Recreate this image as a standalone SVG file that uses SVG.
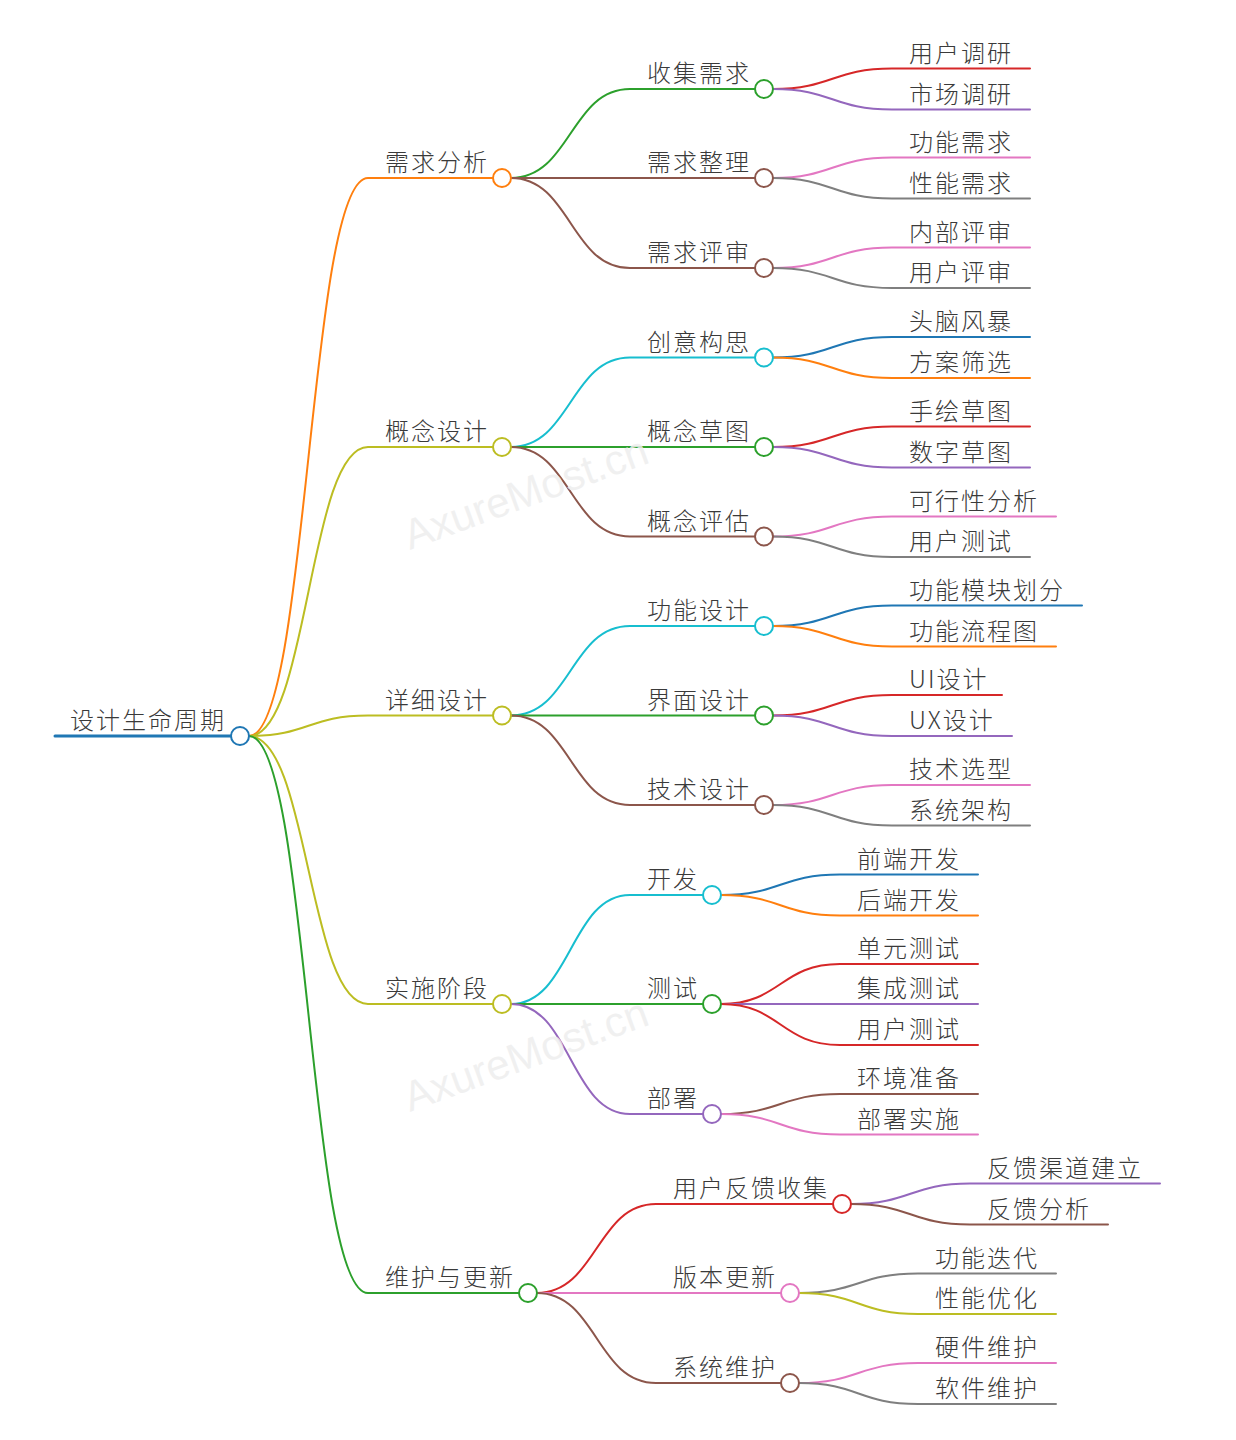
<svg xmlns="http://www.w3.org/2000/svg" width="1236" height="1440" viewBox="0 0 1236 1440">
<style>
text{font-family:"Noto Sans CJK SC","Noto Sans",sans-serif;font-size:24px;letter-spacing:2px;fill:#3a3a3a;font-weight:300}
.wm{font-family:"Liberation Sans",sans-serif;font-size:42px;letter-spacing:0;fill:#eeeeee;fill-opacity:0.85;font-weight:400}
path{fill:none;stroke-width:2;stroke-linecap:round}
circle{fill:#fff;stroke-width:2}
.blue{stroke:#1f77b4}.orange{stroke:#ff7f0e}.green{stroke:#2ca02c}.red{stroke:#d62728}.purple{stroke:#9467bd}.brown{stroke:#8c564b}.pink{stroke:#e377c2}.gray{stroke:#7f7f7f}.olive{stroke:#bcbd22}.cyan{stroke:#17becf}
</style>
<rect width="1236" height="1440" fill="#fff"/>
<g id="connectors">
<path class="blue" d="M55 736H231" style="stroke-width:3"/>
<path class="orange" d="M249 736C308.5 736 308.5 178 368 178H493"/>
<path class="olive" d="M249 736C308.5 736 308.5 447 368 447H493"/>
<path class="olive" d="M249 736C308.5 736 308.5 715.5 368 715.5H493"/>
<path class="olive" d="M249 736C308.5 736 308.5 1004 368 1004H493"/>
<path class="green" d="M249 736C308.5 736 308.5 1293 368 1293H519"/>
<path class="green" d="M511 178C570.5 178 570.5 89 630 89H755"/>
<path class="brown" d="M511 178H755"/>
<path class="brown" d="M511 178C570.5 178 570.5 268 630 268H755"/>
<path class="red" d="M773 89C832.5 89 832.5 68.5 892 68.5H1030"/>
<path class="purple" d="M773 89C832.5 89 832.5 109.5 892 109.5H1030"/>
<path class="pink" d="M773 178C832.5 178 832.5 157.5 892 157.5H1030"/>
<path class="gray" d="M773 178C832.5 178 832.5 198.5 892 198.5H1030"/>
<path class="pink" d="M773 268C832.5 268 832.5 247.5 892 247.5H1030"/>
<path class="gray" d="M773 268C832.5 268 832.5 288 892 288H1030"/>
<path class="cyan" d="M511 447C570.5 447 570.5 357.5 630 357.5H755"/>
<path class="green" d="M511 447H755"/>
<path class="brown" d="M511 447C570.5 447 570.5 536.5 630 536.5H755"/>
<path class="blue" d="M773 357.5C832.5 357.5 832.5 337 892 337H1030"/>
<path class="orange" d="M773 357.5C832.5 357.5 832.5 378 892 378H1030"/>
<path class="red" d="M773 447C832.5 447 832.5 426.5 892 426.5H1030"/>
<path class="purple" d="M773 447C832.5 447 832.5 467.5 892 467.5H1030"/>
<path class="pink" d="M773 536.5C832.5 536.5 832.5 516.5 892 516.5H1056"/>
<path class="gray" d="M773 536.5C832.5 536.5 832.5 557 892 557H1030"/>
<path class="cyan" d="M511 715.5C570.5 715.5 570.5 626 630 626H755"/>
<path class="green" d="M511 715.5H755"/>
<path class="brown" d="M511 715.5C570.5 715.5 570.5 805 630 805H755"/>
<path class="blue" d="M773 626C832.5 626 832.5 605.5 892 605.5H1082"/>
<path class="orange" d="M773 626C832.5 626 832.5 646.5 892 646.5H1056"/>
<path class="red" d="M773 715.5C832.5 715.5 832.5 695 892 695H1002"/>
<path class="purple" d="M773 715.5C832.5 715.5 832.5 736 892 736H1012"/>
<path class="pink" d="M773 805C832.5 805 832.5 785 892 785H1030"/>
<path class="gray" d="M773 805C832.5 805 832.5 825.5 892 825.5H1030"/>
<path class="cyan" d="M511 1004C570.5 1004 570.5 895 630 895H703"/>
<path class="green" d="M511 1004H703"/>
<path class="purple" d="M511 1004C570.5 1004 570.5 1114 630 1114H703"/>
<path class="blue" d="M721 895C780.5 895 780.5 874.5 840 874.5H978"/>
<path class="orange" d="M721 895C780.5 895 780.5 915.5 840 915.5H978"/>
<path class="red" d="M721 1004C780.5 1004 780.5 964 840 964H978"/>
<path class="purple" d="M721 1004H978"/>
<path class="red" d="M721 1004C780.5 1004 780.5 1045 840 1045H978"/>
<path class="brown" d="M721 1114C780.5 1114 780.5 1094 840 1094H978"/>
<path class="pink" d="M721 1114C780.5 1114 780.5 1134.5 840 1134.5H978"/>
<path class="red" d="M537 1293C596.5 1293 596.5 1204 656 1204H833"/>
<path class="pink" d="M537 1293H781"/>
<path class="brown" d="M537 1293C596.5 1293 596.5 1383 656 1383H781"/>
<path class="purple" d="M851 1204C910.5 1204 910.5 1183.5 970 1183.5H1160"/>
<path class="brown" d="M851 1204C910.5 1204 910.5 1224.5 970 1224.5H1108"/>
<path class="gray" d="M799 1293C858.5 1293 858.5 1273.5 918 1273.5H1056"/>
<path class="olive" d="M799 1293C858.5 1293 858.5 1314 918 1314H1056"/>
<path class="pink" d="M799 1383C858.5 1383 858.5 1363 918 1363H1056"/>
<path class="gray" d="M799 1383C858.5 1383 858.5 1404 918 1404H1056"/>
</g>
<g id="root"><text x="70" y="729">设计生命周期</text><circle class="blue" cx="240" cy="736" r="9"/></g>
<g id="n1"><text x="385" y="171">需求分析</text><circle class="orange" cx="502" cy="178" r="9"/></g>
<g id="n1-1"><text x="647" y="82">收集需求</text><circle class="green" cx="764" cy="89" r="9"/></g>
<g id="n1-1-1"><text x="909" y="61.5">用户调研</text></g>
<g id="n1-1-2"><text x="909" y="102.5">市场调研</text></g>
<g id="n1-2"><text x="647" y="171">需求整理</text><circle class="brown" cx="764" cy="178" r="9"/></g>
<g id="n1-2-1"><text x="909" y="150.5">功能需求</text></g>
<g id="n1-2-2"><text x="909" y="191.5">性能需求</text></g>
<g id="n1-3"><text x="647" y="261">需求评审</text><circle class="brown" cx="764" cy="268" r="9"/></g>
<g id="n1-3-1"><text x="909" y="240.5">内部评审</text></g>
<g id="n1-3-2"><text x="909" y="281">用户评审</text></g>
<g id="n2"><text x="385" y="440">概念设计</text><circle class="olive" cx="502" cy="447" r="9"/></g>
<g id="n2-1"><text x="647" y="350.5">创意构思</text><circle class="cyan" cx="764" cy="357.5" r="9"/></g>
<g id="n2-1-1"><text x="909" y="330">头脑风暴</text></g>
<g id="n2-1-2"><text x="909" y="371">方案筛选</text></g>
<g id="n2-2"><text x="647" y="440">概念草图</text><circle class="green" cx="764" cy="447" r="9"/></g>
<g id="n2-2-1"><text x="909" y="419.5">手绘草图</text></g>
<g id="n2-2-2"><text x="909" y="460.5">数字草图</text></g>
<g id="n2-3"><text x="647" y="529.5">概念评估</text><circle class="brown" cx="764" cy="536.5" r="9"/></g>
<g id="n2-3-1"><text x="909" y="509.5">可行性分析</text></g>
<g id="n2-3-2"><text x="909" y="550">用户测试</text></g>
<g id="n3"><text x="385" y="708.5">详细设计</text><circle class="olive" cx="502" cy="715.5" r="9"/></g>
<g id="n3-1"><text x="647" y="619">功能设计</text><circle class="cyan" cx="764" cy="626" r="9"/></g>
<g id="n3-1-1"><text x="909" y="598.5">功能模块划分</text></g>
<g id="n3-1-2"><text x="909" y="639.5">功能流程图</text></g>
<g id="n3-2"><text x="647" y="708.5">界面设计</text><circle class="green" cx="764" cy="715.5" r="9"/></g>
<g id="n3-2-1"><text x="909" y="688">UI设计</text></g>
<g id="n3-2-2"><text x="909" y="729">UX设计</text></g>
<g id="n3-3"><text x="647" y="798">技术设计</text><circle class="brown" cx="764" cy="805" r="9"/></g>
<g id="n3-3-1"><text x="909" y="778">技术选型</text></g>
<g id="n3-3-2"><text x="909" y="818.5">系统架构</text></g>
<g id="n4"><text x="385" y="997">实施阶段</text><circle class="olive" cx="502" cy="1004" r="9"/></g>
<g id="n4-1"><text x="647" y="888">开发</text><circle class="cyan" cx="712" cy="895" r="9"/></g>
<g id="n4-1-1"><text x="857" y="867.5">前端开发</text></g>
<g id="n4-1-2"><text x="857" y="908.5">后端开发</text></g>
<g id="n4-2"><text x="647" y="997">测试</text><circle class="green" cx="712" cy="1004" r="9"/></g>
<g id="n4-2-1"><text x="857" y="957">单元测试</text></g>
<g id="n4-2-2"><text x="857" y="997">集成测试</text></g>
<g id="n4-2-3"><text x="857" y="1038">用户测试</text></g>
<g id="n4-3"><text x="647" y="1107">部署</text><circle class="purple" cx="712" cy="1114" r="9"/></g>
<g id="n4-3-1"><text x="857" y="1087">环境准备</text></g>
<g id="n4-3-2"><text x="857" y="1127.5">部署实施</text></g>
<g id="n5"><text x="385" y="1286">维护与更新</text><circle class="green" cx="528" cy="1293" r="9"/></g>
<g id="n5-1"><text x="673" y="1197">用户反馈收集</text><circle class="red" cx="842" cy="1204" r="9"/></g>
<g id="n5-1-1"><text x="987" y="1176.5">反馈渠道建立</text></g>
<g id="n5-1-2"><text x="987" y="1217.5">反馈分析</text></g>
<g id="n5-2"><text x="673" y="1286">版本更新</text><circle class="pink" cx="790" cy="1293" r="9"/></g>
<g id="n5-2-1"><text x="935" y="1266.5">功能迭代</text></g>
<g id="n5-2-2"><text x="935" y="1307">性能优化</text></g>
<g id="n5-3"><text x="673" y="1376">系统维护</text><circle class="brown" cx="790" cy="1383" r="9"/></g>
<g id="n5-3-1"><text x="935" y="1356">硬件维护</text></g>
<g id="n5-3-2"><text x="935" y="1397">软件维护</text></g>
<g id="watermark">
<text class="wm" x="410" y="550" transform="rotate(-20 410 550)">AxureMost.cn</text>
<text class="wm" x="410" y="1112" transform="rotate(-20 410 1112)">AxureMost.cn</text>
</g>
</svg>
